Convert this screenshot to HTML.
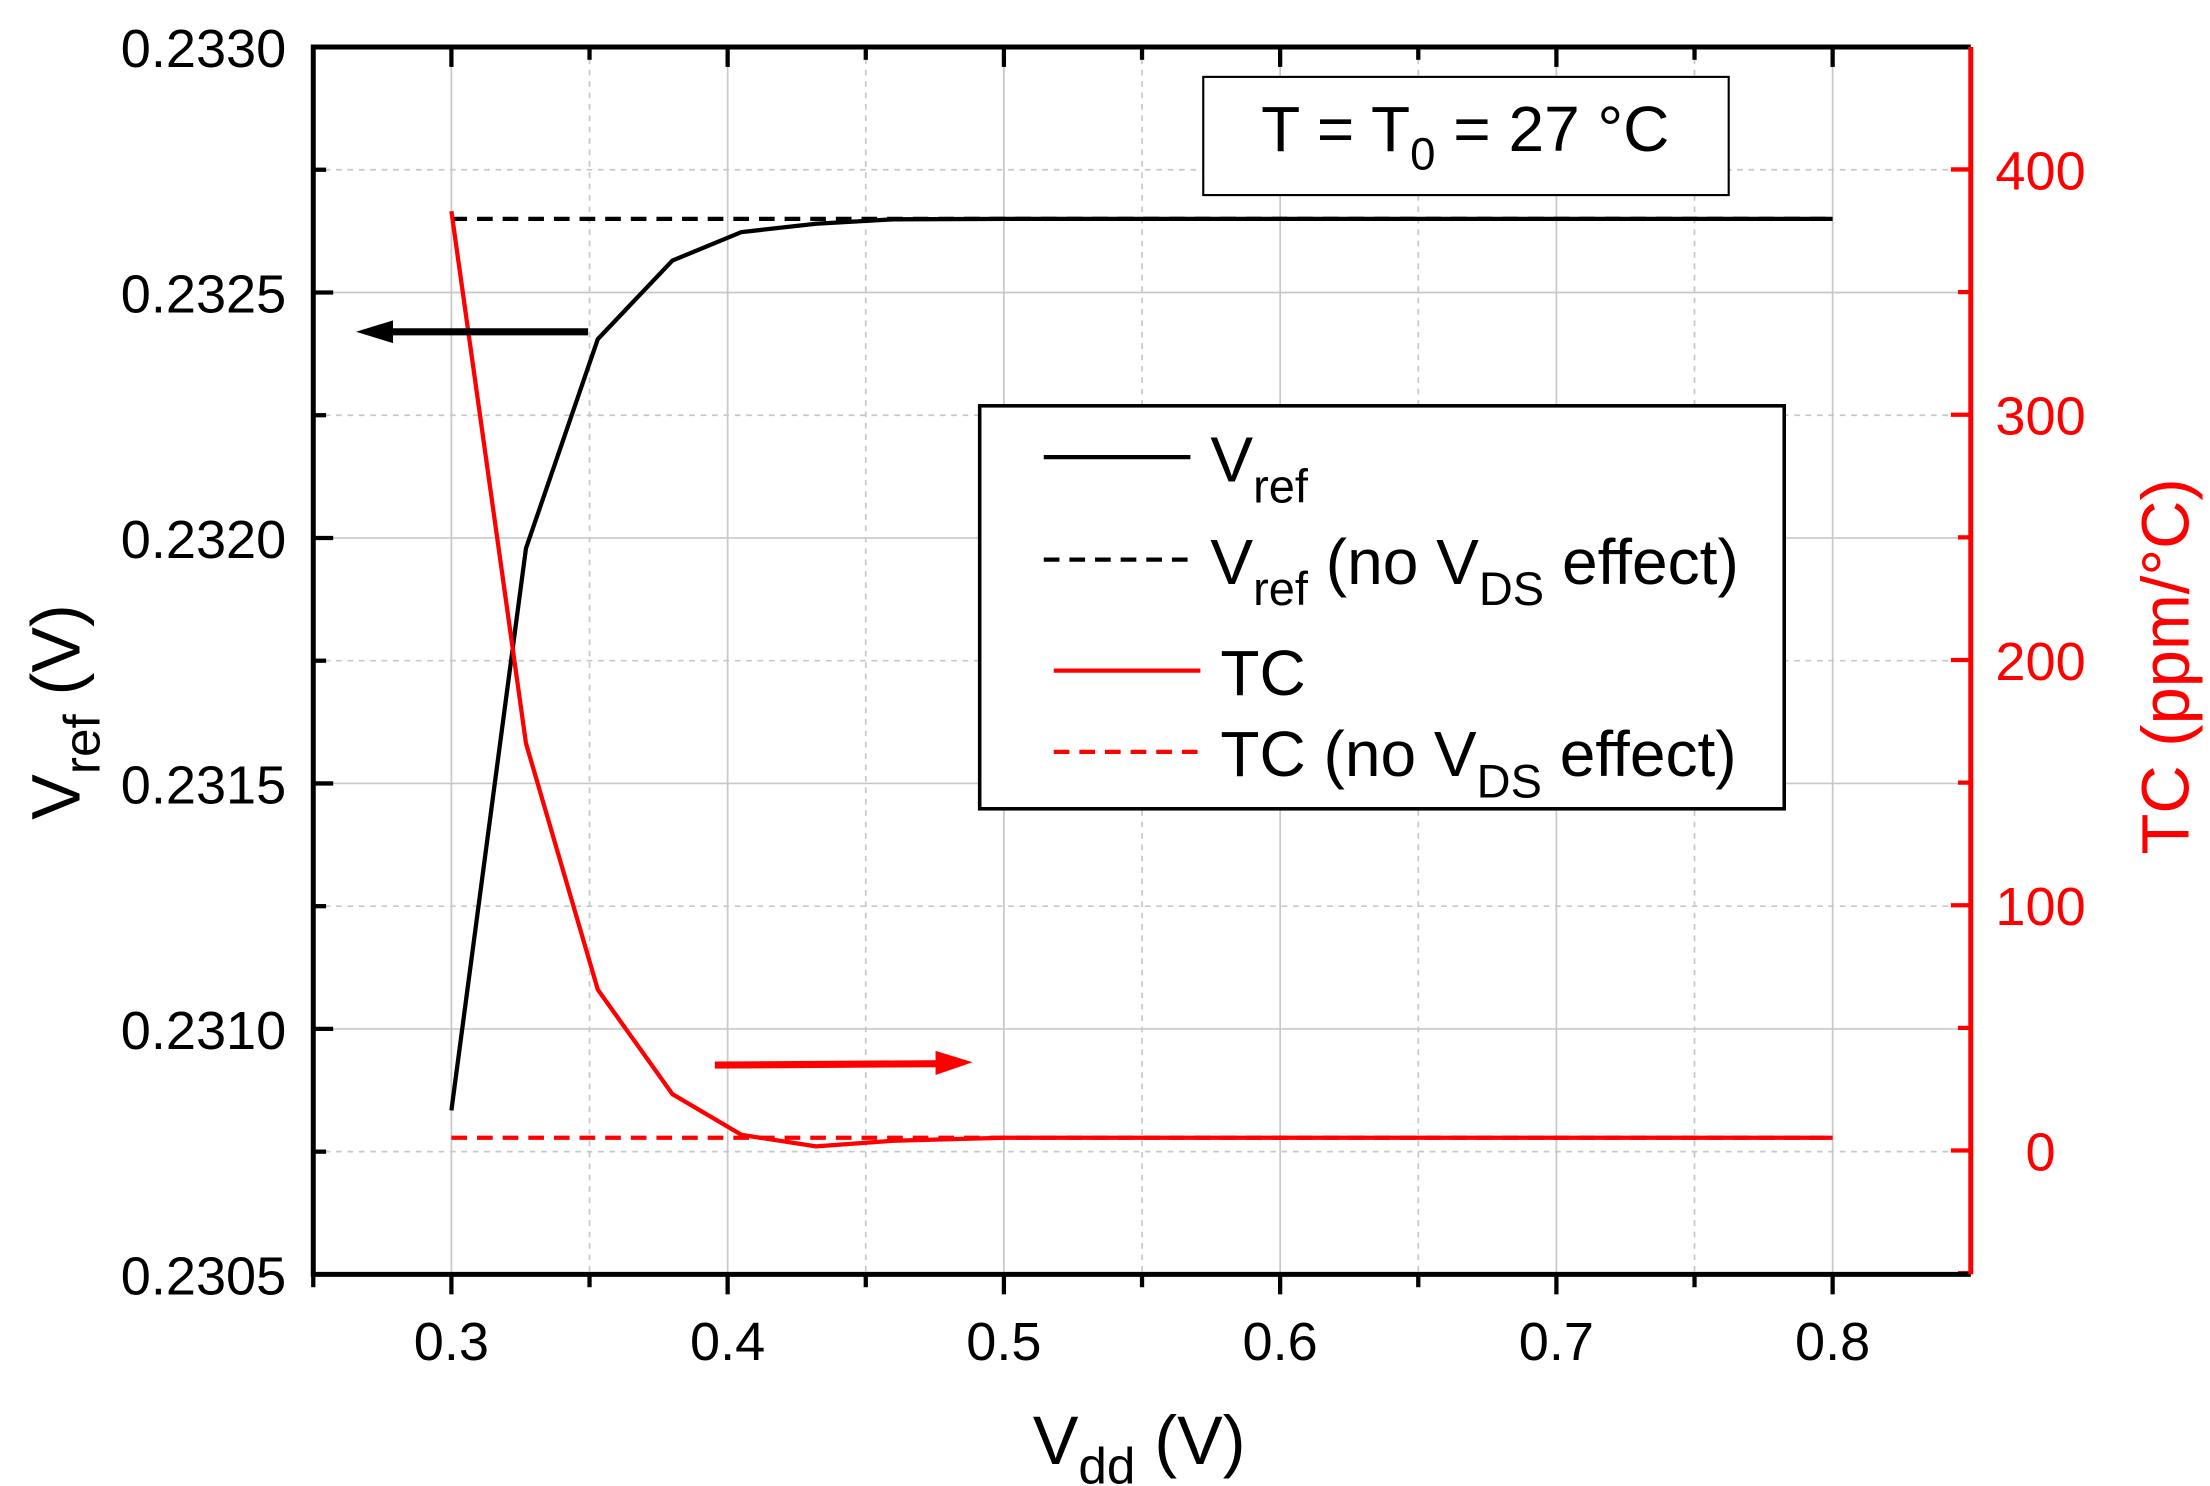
<!DOCTYPE html>
<html><head><meta charset="utf-8"><style>
html,body{margin:0;padding:0;background:#fff;}
svg{display:block;font-family:"Liberation Sans",Arial,sans-serif;}
</style></head><body>
<svg id="chart" width="2210" height="1486" viewBox="0 0 1552 1043.6" preserveAspectRatio="none" xmlns="http://www.w3.org/2000/svg">
<g id="grid"></g>
<g id="series"></g>
<g id="axes"></g>
<g>
<rect x="845" y="54" width="369" height="83" fill="#fff" stroke="#000" stroke-width="1.5"/>
<text x="1029" y="106" font-size="45" text-anchor="middle">T = T<tspan font-size="32" dy="13">0</tspan><tspan dy="-13"> = 27 °C</tspan></text>
</g>
<g>
<rect x="688" y="285" width="565" height="283" fill="#fff" stroke="#000" stroke-width="2.5"/>
<line x1="733" y1="321" x2="836" y2="321" stroke="#000" stroke-width="3"/>
<text x="850" y="338" font-size="45">V<tspan font-size="33" dy="15">ref</tspan></text>
<line x1="733" y1="393" x2="836" y2="393" stroke="#000" stroke-width="3" stroke-dasharray="11,7"/>
<text x="850" y="410" font-size="45">V<tspan font-size="33" dy="15">ref</tspan><tspan dy="-15"> (no V</tspan><tspan font-size="33" dy="15">DS</tspan><tspan dy="-15"> effect)</tspan></text>
<line x1="740" y1="471" x2="843" y2="471" stroke="#f00" stroke-width="3"/>
<text x="857" y="488" font-size="45">TC</text>
<line x1="740" y1="528" x2="843" y2="528" stroke="#f00" stroke-width="3" stroke-dasharray="11,7"/>
<text x="857" y="545" font-size="45">TC (no V<tspan font-size="33" dy="15">DS</tspan><tspan dy="-15"> effect)</tspan></text>
</g>
<g>
<line x1="413" y1="233" x2="270" y2="233" stroke="#000" stroke-width="5"/>
<polygon points="250,233 276,225 276,241" fill="#000"/>
</g>
<g>
<line x1="502" y1="748" x2="662" y2="747" stroke="#f00" stroke-width="5"/>
<polygon points="683,746 657,738 657,755" fill="#f00"/>
</g>
<text x="800" y="1028" font-size="48" text-anchor="middle">V<tspan font-size="36" dy="14">dd</tspan><tspan dy="-14"> (V)</tspan></text>
<text transform="translate(56,500) rotate(-90)" font-size="48" text-anchor="middle">V<tspan font-size="36" dy="14">ref</tspan><tspan dy="-14"> (V)</tspan></text>
<text transform="translate(1537,468) rotate(-90)" font-size="47" text-anchor="middle" fill="#f00">TC (ppm/°C)</text>
</svg>
<script>
const xVals = [0.3, 0.327, 0.353, 0.38, 0.405, 0.432, 0.46, 0.5, 0.6, 0.7, 0.8];
const vrefVals = [0.230834, 0.231979, 0.232405, 0.232565, 0.232623, 0.23264, 0.232649, 0.232650, 0.232650, 0.232650, 0.232650];
const vrefNoVds = [0.23265, 0.23265];
const tcVals = [383, 166, 65.6, 23, 6.4, 1.7, 4, 5.2, 5.2, 5.2, 5.2];
const tcNoVds = [5.2, 5.2];
const noVdsX = [0.3, 0.8];
const xTicks = ["0.3","0.4","0.5","0.6","0.7","0.8"];
const yLeftTicks = ["0.2305","0.2310","0.2315","0.2320","0.2325","0.2330"];
const yRightTicks = ["0","100","200","300","400"];

const L=220,R=1384,T=33,B=895;
const xs=v=>L+(v-0.25)/0.6*(R-L);
const yl=v=>B-(v-0.2305)/0.0025*(B-T);
const yr=v=>808-v/100*172.25;
const NS="http://www.w3.org/2000/svg";
function mk(parent,tag,attrs){const e=document.createElementNS(NS,tag);for(const k in attrs)e.setAttribute(k,attrs[k]);parent.appendChild(e);return e;}
const grid=document.getElementById('grid'),axes=document.getElementById('axes'),ser=document.getElementById('series');

for(let i=0;i<12;i++){const v=0.25+i*0.05;const x=xs(v);const major=i%2===1;
 if(i>0){const g=mk(grid,'line',{x1:x,y1:T,x2:x,y2:B,stroke:'#c8c8c8','stroke-width':1.2,'stroke-dasharray':major?'':'4,4'});
 }
 const t=mk(axes,'line',{x1:x,y1:B,x2:x,y2:B+(major?14:9),stroke:'#000','stroke-width':3});
 
 const t2=mk(axes,'line',{x1:x,y1:T,x2:x,y2:T+(major?14:9),stroke:'#000','stroke-width':3});
 }
xTicks.forEach(s=>{const e=mk(axes,'text',{x:xs(+s),y:955,'font-size':38,'text-anchor':'middle'});e.textContent=s;
 });
for(let i=1;i<10;i++){const v=0.2305+i*0.00025;const y=yl(v);const major=i%2===0;
 const g=mk(grid,'line',{x1:L,y1:y,x2:R,y2:y,stroke:'#c8c8c8','stroke-width':1.2,'stroke-dasharray':major?'':'4,4'});
 
 const t=mk(axes,'line',{x1:L,y1:y,x2:L+(major?14:9),y2:y,stroke:'#000','stroke-width':3});
 }
yLeftTicks.forEach(s=>{const e=mk(axes,'text',{x:201,y:yl(+s)+14,'font-size':38,'text-anchor':'end'});e.textContent=s;
 });
for(let v=-50;v<=450;v+=50){const y=yr(v);if(y<T||y>B)continue;const major=v%100===0;
 const t=mk(axes,'line',{x1:R,y1:y,x2:R-(major?14:9),y2:y,stroke:'#f00','stroke-width':3});
 }
yRightTicks.forEach(s=>{const e=mk(axes,'text',{x:1433,y:yr(+s)+14,'font-size':38,'text-anchor':'middle',fill:'#f00'});e.textContent=s;
 });

function line(xa,ya,fy,color,dash,name){const p=xa.map((x,i)=>xs(x)+','+fy(ya[i])).join(' ');
 const e=mk(ser,'polyline',{points:p,fill:'none',stroke:color,'stroke-width':3,'stroke-dasharray':dash,'stroke-linejoin':'round'});
 }
line(noVdsX,vrefNoVds,yl,'#000','11,7','vref-no-vds-line');
line(xVals,vrefVals,yl,'#000','','vref-line');
line(noVdsX,tcNoVds,yr,'#f00','11,7','tc-no-vds-line');
line(xVals,tcVals,yr,'#f00','','tc-line');

const ax1=mk(axes,'polyline',{points:`${R},${T} ${L},${T} ${L},${B} ${R},${B}`,fill:'none',stroke:'#000','stroke-width':3.5});

const ax2=mk(axes,'line',{x1:R,y1:T,x2:R,y2:B,stroke:'#f00','stroke-width':3.5});

</script>
</body></html>
